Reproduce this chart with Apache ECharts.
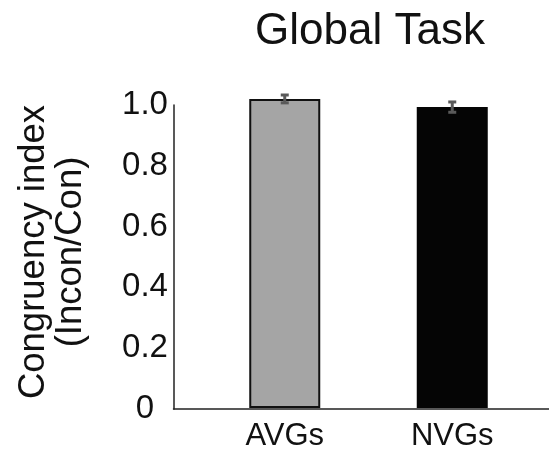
<!DOCTYPE html>
<html>
<head>
<meta charset="utf-8">
<script src="https://cdn.jsdelivr.net/npm/echarts@6/dist/echarts.min.js"></script>
<style>html,body{margin:0;padding:0;background:#fff}#c{width:549px;height:452px}</style>
</head>
<body>
<div id="c"></div>
<script>
var titleText = 'Global Task';
var yName = 'Congruency index\n(Incon/Con)';
var categories = ['AVGs', 'NVGs'];
var means = [1.02, 0.993];
var errors = [0.013, 0.017];
var barColors = ['#a5a5a5', '#050505'];
var yTicks = [0, 0.2, 0.4, 0.6, 0.8, 1.0];

var FONT = '"Liberation Sans", Arial, Helvetica, sans-serif';
var chart = echarts.init(document.getElementById('c'));

var option = {
  backgroundColor: '#fff',
  animation: false,
  title: {
    text: titleText,
    left: 365, top: 5, textAlign: 'center',
    textStyle: { fontFamily: FONT, fontSize: 44, fontWeight: 'normal', color: '#111' }
  },
  grid: [
    { left: 201, right: 13, top: 105, bottom: 43 },
    { left: 173.5, right: 0, top: 105, bottom: 43 }
  ],
  xAxis: [
    {
      gridIndex: 0, type: 'category', data: categories,
      axisLine: { show: false }, axisTick: { show: false },
      axisLabel: { fontFamily: FONT, fontSize: 31, color: '#111', margin: 13 }
    },
    {
      gridIndex: 1, type: 'value', min: 0, max: 1,
      axisLine: { show: true, lineStyle: { color: '#222', width: 1.5 } },
      axisTick: { show: false }, axisLabel: { show: false }, splitLine: { show: false }
    }
  ],
  yAxis: [
    {
      gridIndex: 0, type: 'value', min: 0, max: 1, show: false, splitLine: { show: false }
    },
    {
      gridIndex: 1, type: 'value', min: 0, max: 1, interval: 0.2,
      name: yName, nameLocation: 'middle', nameGap: 84, nameRotate: 90,
      nameTextStyle: { fontFamily: FONT, fontSize: 36.5, lineHeight: 37, color: '#111', padding: [0, 0, 0, 10] },
      axisLine: { show: true, lineStyle: { color: '#222', width: 1.5 } },
      axisTick: { show: false }, splitLine: { show: false },
      axisLabel: {
        fontFamily: FONT, fontSize: 33, color: '#111', align: 'center', margin: 28.5,
        padding: [0, 0, 9, 0],
        formatter: function (v) { return v === 0 ? '0' : v.toFixed(1); }
      }
    }
  ],
  series: [
    {
      type: 'bar', xAxisIndex: 0, yAxisIndex: 0, clip: false,
      barWidth: 71,
      data: means.map(function (v, i) {
        return { value: v, itemStyle: { color: barColors[i], borderColor: i === 0 ? '#111' : '#050505', borderWidth: 2 } };
      })
    },
    {
      type: 'custom', xAxisIndex: 0, yAxisIndex: 0, clip: false, z: 5,
      data: means.map(function (v, i) { return [i, v - errors[i], v + errors[i]]; }),
      renderItem: function (params, api) {
        var lo = api.coord([api.value(0), api.value(1)]);
        var hi = api.coord([api.value(0), api.value(2)]);
        var w = 4;
        var st = { stroke: '#5a5a5a', lineWidth: 3 };
        return {
          type: 'group',
          children: [
            { type: 'line', shape: { x1: lo[0], y1: lo[1], x2: hi[0], y2: hi[1] }, style: st },
            { type: 'line', shape: { x1: lo[0] - w, y1: lo[1], x2: lo[0] + w, y2: lo[1] }, style: st },
            { type: 'line', shape: { x1: hi[0] - w, y1: hi[1], x2: hi[0] + w, y2: hi[1] }, style: st }
          ]
        };
      }
    }
  ]
};
chart.setOption(option);
</script>
</body>
</html>
